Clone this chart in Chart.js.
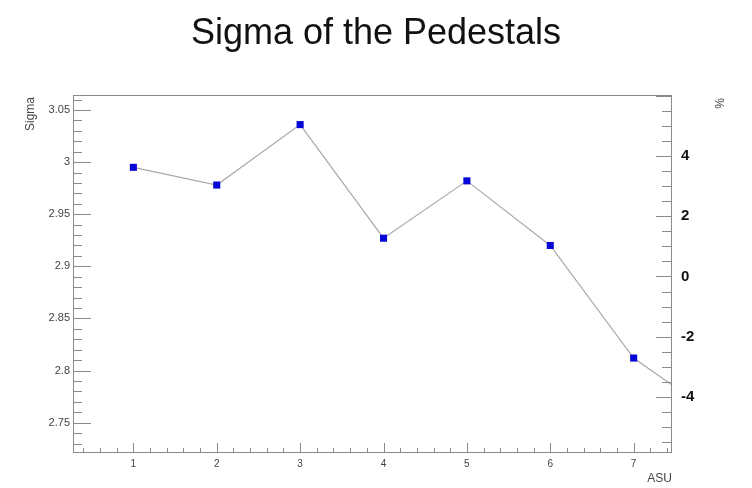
<!DOCTYPE html>
<html>
<head>
<meta charset="utf-8">
<title>Sigma of the Pedestals</title>
<script src="https://cdn.jsdelivr.net/npm/chart.js@4/dist/chart.umd.min.js"></script>
<style>
  html, body { margin: 0; padding: 0; background: #fff; }
  canvas { display: block; }
</style>
</head>
<body>
<canvas id="sigma-chart" width="752" height="488"></canvas>
<script>
// ASU number and pedestal sigma per ASU
const asu = [1, 2, 3, 4, 5, 6, 7, 8];
const sigma = [2.995, 2.978, 3.036, 2.927, 2.982, 2.920, 2.812, 2.756];

// axis ticks
const xTicks = [1, 2, 3, 4, 5, 6, 7];
const sigmaTicks = [2.75, 2.8, 2.85, 2.9, 2.95, 3.0, 3.05];
const percentTicks = [-4, -2, 0, 2, 4];

(function () {
  "use strict";

  const FONT = "'Liberation Sans', Arial, Helvetica, sans-serif";

  const xRange = { min: 0.276, max: 7.46 };
  const sigmaRange = { min: 2.7209, max: 3.0644 };
  // reference sigma for the relative (%) axis on the right
  const sigmaRef = 2.8903;
  const pct = (s) => (s / sigmaRef - 1) * 100;

  // indices of minor steps inside [min, max]
  function stepsIn(min, max, step) {
    const out = [];
    const k0 = Math.ceil(min / step - 1e-9);
    const k1 = Math.floor(max / step + 1e-9);
    for (let k = k0; k <= k1; k++) out.push(k);
    return out;
  }

  // ROOT-like frame with ticks drawn on the inside, plus axis titles
  const frameTicks = {
    id: "frameTicks",
    afterDraw(chart) {
      const { ctx, chartArea: a, scales } = chart;
      ctx.save();
      ctx.strokeStyle = "#8a8a8a";
      ctx.lineWidth = 1;
      ctx.strokeRect(a.left + 0.5, a.top + 0.5, a.right - a.left - 1, a.bottom - a.top - 1);

      ctx.beginPath();
      // bottom axis
      const sx = scales.x;
      for (const k of stepsIn(sx.min, sx.max, 0.2)) {
        const px = Math.round(sx.getPixelForValue(k * 0.2)) + 0.5;
        const len = k % 5 === 0 ? 10 : 5;
        ctx.moveTo(px, a.bottom);
        ctx.lineTo(px, a.bottom - len);
      }
      // left axis
      const sy = scales.y;
      for (const k of stepsIn(sy.min, sy.max, 0.01)) {
        const py = Math.round(sy.getPixelForValue(k * 0.01)) + 0.5;
        const len = k % 5 === 0 ? 18 : 9;
        ctx.moveTo(a.left, py);
        ctx.lineTo(a.left + len, py);
      }
      // right axis
      const sy2 = scales.y2;
      for (const k of stepsIn(sy2.min, sy2.max, 0.5)) {
        const py = Math.round(sy2.getPixelForValue(k * 0.5)) + 0.5;
        const len = k % 4 === 0 ? 16 : 10;
        ctx.moveTo(a.right, py);
        ctx.lineTo(a.right - len, py);
      }
      ctx.stroke();

      // axis titles
      ctx.fillStyle = "#444";
      ctx.font = "12px " + FONT;
      ctx.textAlign = "right";
      ctx.textBaseline = "alphabetic";
      ctx.fillText("ASU", a.right, 482);

      ctx.save();
      ctx.translate(34, a.top + 2);
      ctx.rotate(-Math.PI / 2);
      ctx.textAlign = "right";
      ctx.fillText("Sigma", 0, 0);
      ctx.restore();

      ctx.save();
      ctx.translate(724, 98);
      ctx.rotate(-Math.PI / 2);
      ctx.textAlign = "right";
      ctx.fillText("%", 0, 0);
      ctx.restore();

      ctx.restore();
    },
  };

  const points = asu.map((x, i) => ({ x, y: sigma[i] }));
  const noGrid = { display: false, drawTicks: false };

  new Chart(document.getElementById("sigma-chart"), {
    type: "scatter",
    data: {
      datasets: [
        {
          label: "Sigma",
          data: points,
          showLine: true,
          borderColor: "#a9a9a9",
          borderWidth: 1.2,
          pointStyle: "rect",
          pointRadius: 5,
          pointBorderWidth: 0,
          pointBackgroundColor: "#0606d6",
          pointBorderColor: "#0606d6",
        },
      ],
    },
    options: {
      responsive: false,
      animation: false,
      layout: { padding: 0 },
      plugins: {
        legend: { display: false },
        tooltip: { enabled: false },
        title: {
          display: true,
          text: "Sigma of the Pedestals",
          color: "#111",
          font: { family: FONT, size: 36, weight: "normal", lineHeight: 1.2 },
          padding: { top: 12, bottom: 39.8 },
        },
      },
      scales: {
        x: {
          type: "linear",
          min: xRange.min,
          max: xRange.max,
          grid: noGrid,
          border: { display: false },
          afterBuildTicks: (s) => {
            s.ticks = xTicks.map((v) => ({ value: v }));
          },
          afterFit: (s) => {
            s.height = 35;
          },
          ticks: {
            autoSkip: false,
            maxRotation: 0,
            padding: 5,
            color: "#444",
            font: { family: FONT, size: 10 },
            callback: (v) => String(v),
          },
        },
        y: {
          position: "left",
          min: sigmaRange.min,
          max: sigmaRange.max,
          grid: noGrid,
          border: { display: false },
          afterBuildTicks: (s) => {
            s.ticks = sigmaTicks.map((v) => ({ value: v }));
          },
          afterFit: (s) => {
            s.width = 73;
          },
          ticks: {
            autoSkip: false,
            padding: 3,
            color: "#444",
            font: { family: FONT, size: 11 },
            callback: (v) => String(Number(v.toFixed(2))),
          },
        },
        y2: {
          position: "right",
          min: pct(sigmaRange.min),
          max: pct(sigmaRange.max),
          grid: noGrid,
          border: { display: false },
          afterBuildTicks: (s) => {
            s.ticks = percentTicks.map((v) => ({ value: v }));
          },
          afterFit: (s) => {
            s.width = 80;
          },
          ticks: {
            autoSkip: false,
            padding: 9,
            color: "#111",
            font: { family: FONT, size: 15, weight: "bold" },
            callback: (v) => String(v),
          },
        },
      },
    },
    plugins: [frameTicks],
  });
})();
</script>
</body>
</html>
